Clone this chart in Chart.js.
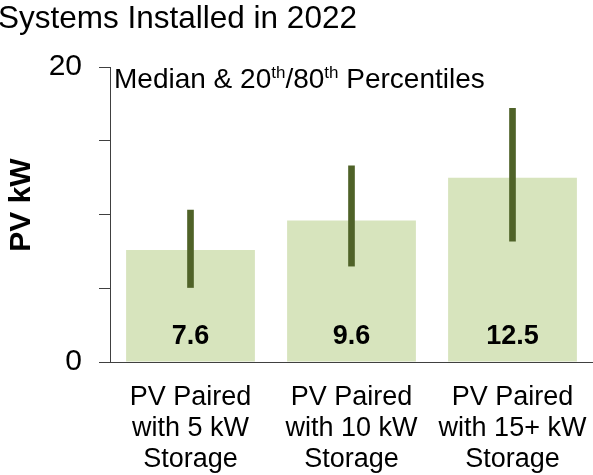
<!DOCTYPE html>
<html>
<head>
<meta charset="utf-8">
<script src="https://cdn.jsdelivr.net/npm/chart.js@4.4.0/dist/chart.umd.min.js"></script>
<style>
html, body { margin: 0; padding: 0; background: #fff; }
</style>
</head>
<body>
<canvas id="pvchart" width="593" height="475"></canvas>
<script>
var categories = [['PV Paired', 'with 5 kW', 'Storage'], ['PV Paired', 'with 10 kW', 'Storage'], ['PV Paired', 'with 15+ kW', 'Storage']];
var medianKw = [7.6, 9.6, 12.5];
var p20Kw = [5.05, 6.5, 8.2];
var p80Kw = [10.3, 13.3, 17.2];
var yTickLabels = [0, 20];

var FONT = '"Liberation Sans", Arial, sans-serif';

// percentile ranges as floating bars
var ranges = [];
for (var i = 0; i < medianKw.length; i++) {
    ranges.push([p20Kw[i], p80Kw[i]]);
}

var textPlugin = {
    id: 'texts',
    afterDraw: function(chart) {
        var ctx = chart.ctx;
        var y = chart.scales.y;
        ctx.save();
        ctx.fillStyle = '#000';

        // values inside bars
        ctx.font = 'bold 27px ' + FONT;
        ctx.textAlign = 'center';
        ctx.textBaseline = 'alphabetic';
        chart.getDatasetMeta(1).data.forEach(function(bar, i) {
            ctx.fillText(medianKw[i].toFixed(1), bar.x, y.getPixelForValue(0) - 18);
        });

        // title
        ctx.textAlign = 'left';
        ctx.font = '31.5px ' + FONT;
        ctx.fillText('Systems Installed in 2022', -2, 28);

        // subtitle with superscripts
        var parts = [['Median & 20', 0], ['th', 1], ['/80', 0], ['th', 1], [' Percentiles', 0]];
        var x = 114;
        parts.forEach(function(p) {
            ctx.font = (p[1] ? '17px ' : '28px ') + FONT;
            ctx.fillText(p[0], x, p[1] ? 78 : 88);
            x += ctx.measureText(p[0]).width;
        });

        // y axis title
        ctx.translate(30, 205);
        ctx.rotate(-Math.PI / 2);
        ctx.textAlign = 'center';
        ctx.font = 'bold 30px ' + FONT;
        ctx.fillText('PV kW', 0, 0);
        ctx.restore();
    }
};

var ctx = document.getElementById('pvchart').getContext('2d');
var pvchart = new Chart(ctx, {
    type: 'bar',
    data: {
        labels: categories,
        datasets: [{
            label: '20th/80th',
            data: ranges,
            backgroundColor: '#4f6228',
            barThickness: 6,
            grouped: false,
            order: 0
        }, {
            label: 'Median',
            data: medianKw,
            backgroundColor: '#d7e4bd',
            categoryPercentage: 1,
            barPercentage: 0.8,
            grouped: false,
            order: 1
        }]
    },
    options: {
        responsive: false,
        animation: false,
        layout: { padding: { top: 67, right: 0, left: 0, bottom: 0 } },
        plugins: {
            legend: { display: false },
            tooltip: { enabled: false }
        },
        scales: {
            x: {
                grid: { display: false, drawTicks: false },
                border: { display: true, color: '#404040', width: 1 },
                ticks: {
                    color: '#000',
                    padding: 20,
                    maxRotation: 0,
                    autoSkip: false,
                    font: { family: FONT, size: 27, lineHeight: 1.15 }
                },
                afterFit: function(scale) {
                    scale.height = 113;
                    scale.paddingLeft = 0;
                    scale.paddingRight = 0;
                }
            },
            y: {
                min: 0,
                max: 20,
                grid: { drawOnChartArea: false, drawTicks: true, tickLength: 11, color: '#404040' },
                border: { display: true, color: '#404040', width: 1 },
                ticks: {
                    stepSize: 5,
                    color: '#000',
                    padding: 17,
                    font: { family: FONT, size: 30 },
                    callback: function(v) { return yTickLabels.indexOf(v) >= 0 ? v : ''; }
                },
                afterFit: function(scale) { scale.width = 110; }
            }
        }
    },
    plugins: [textPlugin]
});
</script>
</body>
</html>
